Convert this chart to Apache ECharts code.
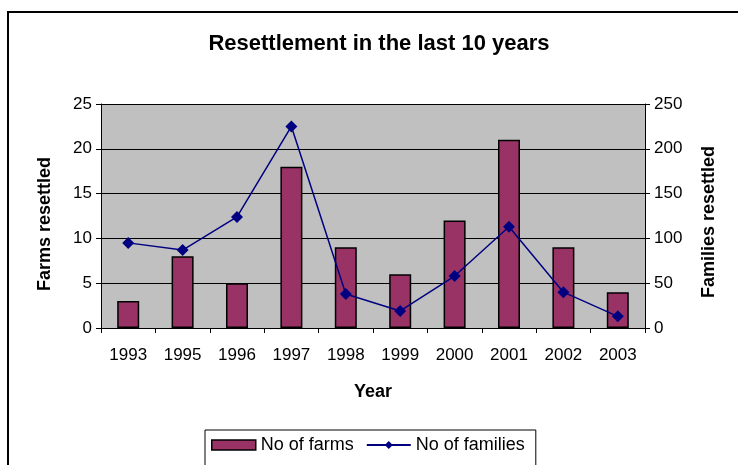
<!DOCTYPE html>
<html>
<head>
<meta charset="utf-8">
<script src="https://cdn.jsdelivr.net/npm/echarts@6/dist/echarts.min.js"></script>
<style>
html,body{margin:0;padding:0;background:#fff;}
#chart{width:738px;height:465px;}
</style>
</head>
<body>
<div id="chart"></div>
<script>
const years = ['1993','1995','1996','1997','1998','1999','2000','2001','2002','2003'];
const farms = [3, 8, 5, 18, 9, 6, 12, 21, 9, 4];
const families = [95, 87, 124, 225, 38, 19, 58, 113, 40, 13];
const leftTicks = [0, 5, 10, 15, 20, 25];
const rightTicks = [0, 50, 100, 150, 200, 250];

const font = 'Liberation Sans, Arial, sans-serif';
const chart = echarts.init(document.getElementById('chart'), null, {renderer: 'canvas'});
chart.setOption({
  backgroundColor: '#fff',
  animation: false,
  graphic: [{
    type: 'rect', shape: {x: 8, y: 12, width: 800, height: 500},
    style: {fill: 'none', stroke: '#000', lineWidth: 2}, z: -1
  }],
  title: {
    text: 'Resettlement in the last 10 years',
    left: 374, top: 28, textAlign: 'center',
    textStyle: {fontFamily: font, fontSize: 22, fontWeight: 'bold', color: '#000'}
  },
  legend: {
    left: 205, top: 430,
    padding: [6, 11, 12, 6],
    borderColor: '#000', borderWidth: 1, backgroundColor: '#fff',
    itemWidth: 44, itemHeight: 10, itemGap: 12,
    textStyle: {fontFamily: font, fontSize: 18, color: '#000'},
    data: [
      {name: 'No of farms', icon: 'rect', itemStyle: {color: '#993366', borderColor: '#000', borderWidth: 1.5}},
      {name: 'No of families'}
    ]
  },
  grid: {left: 101, right: 93, top: 104, height: 224, backgroundColor: '#C0C0C0', show: true, borderWidth: 0},
  xAxis: {
    type: 'category', data: years, boundaryGap: true,
    name: 'Year', nameLocation: 'middle', nameGap: 55,
    nameTextStyle: {fontFamily: font, fontSize: 18, fontWeight: 'bold', color: '#000'},
    axisLine: {lineStyle: {color: '#000', width: 1}},
    axisTick: {show: true, length: 5, lineStyle: {color: '#000'}},
    axisLabel: {fontFamily: font, fontSize: 17, color: '#000', margin: 19}
  },
  yAxis: [{
    type: 'value', min: 0, max: 25, interval: 5,
    name: 'Farms resettled', nameLocation: 'middle', nameGap: 47,
    nameTextStyle: {fontFamily: font, fontSize: 18, fontWeight: 'bold', color: '#000', padding: [0, 16, 0, 0]},
    axisLine: {show: true, lineStyle: {color: '#000'}},
    axisTick: {show: true, length: 5, lineStyle: {color: '#000'}},
    axisLabel: {fontFamily: font, fontSize: 17, color: '#000', margin: 9,
      formatter: v => leftTicks.includes(v) ? String(v) : ''},
    splitLine: {show: true, lineStyle: {color: '#000', width: 1}}
  }, {
    type: 'value', min: 0, max: 250, interval: 50, position: 'right',
    name: 'Families resettled', nameLocation: 'middle', nameGap: 55,
    nameTextStyle: {fontFamily: font, fontSize: 18, fontWeight: 'bold', color: '#000', padding: [0, 12, 0, 0]},
    axisLine: {show: true, lineStyle: {color: '#000'}},
    axisTick: {show: true, length: 5, lineStyle: {color: '#000'}},
    axisLabel: {fontFamily: font, fontSize: 17, color: '#000', margin: 9,
      formatter: v => rightTicks.includes(v) ? String(v) : ''},
    splitLine: {show: false}
  }],
  series: [{
    name: 'No of farms', type: 'bar', data: farms, yAxisIndex: 0,
    barWidth: 22,
    itemStyle: {color: '#993366', borderColor: '#000', borderWidth: 1.5}
  }, {
    name: 'No of families', type: 'line', data: families, yAxisIndex: 1,
    symbol: 'diamond', symbolSize: 12,
    lineStyle: {color: '#000080', width: 1.5},
    itemStyle: {color: '#000080'}
  }]
});
</script>
</body>
</html>
